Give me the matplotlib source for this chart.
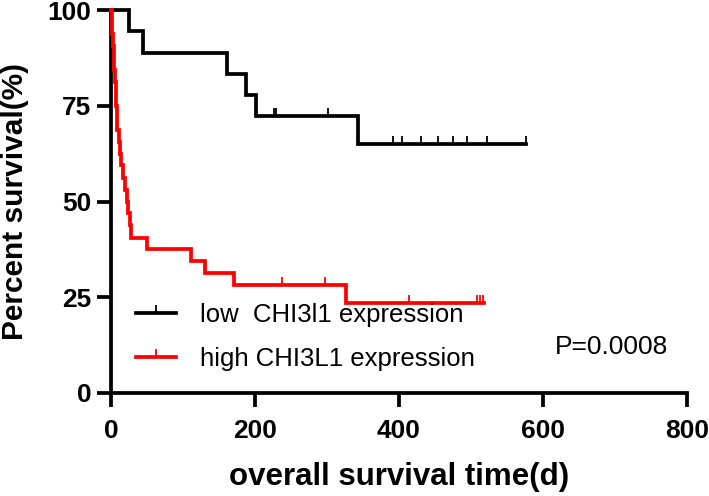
import numpy as np
import matplotlib
matplotlib.use("Agg")
import matplotlib.pyplot as plt
from matplotlib.lines import Line2D

# ---- data ----
low_times = [0, 25, 45, 161, 188, 201, 343]
low_surv = [100, 94.4, 88.9, 83.3, 77.8, 72.2, 65.0]
low_end = 577
low_censor = [226, 229, 302, 392, 404, 431, 454, 475, 494, 522, 577]

high_times = [0, 1, 2, 3, 4, 4.5, 5.5, 6.5, 7.5, 8, 9, 10.5, 12.5, 14, 17, 19,
              22, 24, 26, 28, 50, 111, 130, 171, 327]
high_surv = [100, 96.9, 93.75, 90.6, 87.5, 84.4, 81.25, 78.1, 75, 71.9, 68.75,
             65.6, 62.5, 59.4, 56.25, 53.1, 50, 46.9, 43.75, 40.6, 37.5, 34.4,
             31.25, 28.1, 23.6]
high_end = 518
high_censor = [238, 297, 414, 508, 512.5, 517]

labels = ["low  CHI3l1 expression", "high CHI3L1 expression"]
colors = ["black", "red"]
xticks = [0, 200, 400, 600, 800]
yticks = [0, 25, 50, 75, 100]
p_text = "P=0.0008"

W, H = 709, 496
fig = plt.figure(figsize=(W / 100, H / 100), dpi=100)
ax = fig.add_axes([111 / W, (H - 393) / H, (687 - 111) / W, (393 - 10) / H])

tick_marker = [(0, 0), (0, 1)]
LW = 2.7

def km_step(times, surv, end):
    t = list(times) + [end]
    s = list(surv) + [surv[-1]]
    return t, s

def surv_at(times, surv, tc):
    idx = np.searchsorted(np.array(times), np.array(tc), side="right") - 1
    return np.array(surv)[idx]

for times, surv, end, cens, col in [
    (low_times, low_surv, low_end, low_censor, colors[0]),
    (high_times, high_surv, high_end, high_censor, colors[1]),
]:
    t, s = km_step(times, surv, end)
    ax.step(t, s, where="post", color=col, lw=LW, clip_on=False, zorder=3,
            solid_joinstyle="miter")
    ax.plot(cens, surv_at(times, surv, cens), ls="none", marker=tick_marker,
            ms=12, mew=1.3, color=col, clip_on=False, zorder=3)

ax.set_xlim(0, 800)
ax.set_ylim(0, 100)
ax.set_xticks(xticks)
ax.set_yticks(yticks)
for sp in ["top", "right"]:
    ax.spines[sp].set_visible(False)
for sp in ["left", "bottom"]:
    ax.spines[sp].set_linewidth(2.7)
ax.tick_params(axis="both", direction="out", length=10, width=2.7)
ax.tick_params(axis="x", pad=9)
ax.tick_params(axis="y", pad=4)
for lab in ax.get_xticklabels() + ax.get_yticklabels():
    lab.set_fontfamily("Liberation Sans")
    lab.set_fontweight("bold")
    lab.set_fontsize(19)

fig.text(15 / W, 1 - 201 / H, "Percent survival(%)", rotation=90, ha="center",
         va="center", fontsize=21.5, fontweight="bold", family="Liberation Sans")
fig.text(399 / W, 1 - 485 / H, "overall survival time(d)", ha="center",
         va="baseline", fontsize=22.5, fontweight="bold", family="Liberation Sans")

handles = [Line2D([], [], color=c, lw=LW, marker=tick_marker, ms=12, mew=1.3)
           for c in colors]
leg = ax.legend(handles, labels, loc="center left", frameon=False,
                bbox_to_anchor=(136 / W, 1 - 337 / H),
                bbox_transform=fig.transFigure, borderpad=0, borderaxespad=0,
                handlelength=1.56, handletextpad=0.93, labelspacing=0.75,
                numpoints=1, prop={"family": "Liberation Sans", "size": 18.5})

fig.text(555 / W, 1 - 347 / H, p_text, ha="left", va="center", fontsize=19,
         family="Liberation Sans")

fig.savefig("out.png", dpi=100)
